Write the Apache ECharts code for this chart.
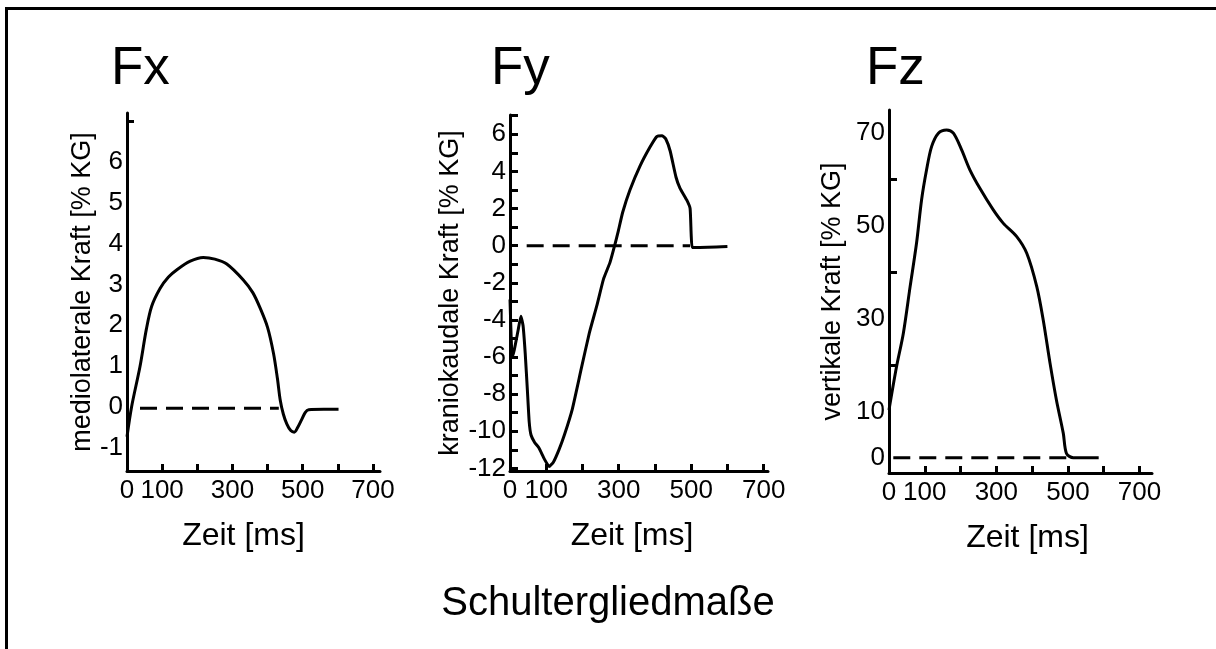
<!DOCTYPE html>
<html>
<head>
<meta charset="utf-8">
<script src="https://cdn.jsdelivr.net/npm/echarts@6/dist/echarts.min.js"></script>
<style>
  html, body { margin: 0; padding: 0; background: #fff; }
  #main { width: 1216px; height: 649px; }
</style>
</head>
<body>
<div id="main"></div>
<script>
// Werte: [Zeit ms, Kraft % KG]
const fxCurve = [[0, -0.73], [13, 0], [37, 0.99], [55, 1.9], [70, 2.46], [94, 2.9], [118, 3.18], [142, 3.36],
  [180, 3.57], [217, 3.66], [250, 3.62], [284, 3.5], [331, 3.11], [358, 2.8], [379, 2.42], [400, 1.95],
  [417, 1.31], [428, 0.7], [436, 0.17], [445, -0.18], [455, -0.42], [466, -0.58], [476, -0.62], [486, -0.5],
  [496, -0.33], [507, -0.14], [517, -0.07], [560, -0.06], [602, -0.06]];
const fxZero = [[37, -0.03], [432, -0.03]];

const fyCurve = [[0, -2.9], [6, -6.0], [12, -5.6], [22, -4.6], [30, -3.8], [36, -4.3], [42, -5.8], [48, -7.8],
  [53, -9.5], [58, -10.2], [68, -10.6], [80, -10.9], [95, -11.5], [108, -11.9], [120, -11.65], [135, -11.0],
  [150, -10.2], [172, -8.8], [197, -6.6], [219, -4.7], [240, -3.2], [258, -1.8], [276, -0.9], [290, 0.1],
  [299, 0.8], [311, 1.8], [331, 3.0], [359, 4.3], [386, 5.3], [405, 5.88], [420, 5.92], [430, 5.75],
  [442, 5.1], [458, 3.7], [469, 3.1], [488, 2.45], [497, 2.0], [500, 0.6], [503, -0.1], [520, -0.1], [600, -0.05]];
const fyZero = [[46, 0], [497, 0]];

const fzCurve = [[0, 10.3], [21, 19.6], [40, 26.8], [59, 36.9], [77, 46.3], [91, 55.6], [105, 62.1], [119, 67.1],
  [138, 70], [161, 70.7], [180, 70], [203, 66.4], [226, 62.1], [254, 58.1], [291, 53.5], [319, 50.6],
  [357, 47.7], [385, 44.1], [413, 36.9], [431, 29.7], [450, 20.4], [468, 12.4], [487, 5.3], [496, 0.9],
  [515, 0], [586, 0]];
const fzZero = [[12, 0], [497, 0]];

const panelTitles = ['Fx', 'Fy', 'Fz'];
const yNames = ['mediolaterale Kraft [% KG]', 'kraniokaudale Kraft [% KG]', 'vertikale Kraft [% KG]'];
const xName = 'Zeit [ms]';
const footer = 'Schultergliedmaße';

const xLabelVals = [0, 100, 300, 500, 700];
const xTickVals = [100, 200, 300, 400, 500, 600, 700];
const fxLabelVals = [-1, 0, 1, 2, 3, 4, 5, 6];
const fxTickVals = [7];
const fyLabelVals = [-12, -10, -8, -6, -4, -2, 0, 2, 4, 6];
const fyTickVals = [-12, -11, -10, -9, -8, -7, -6, -5, -4, -3, -2, -1, 0, 1, 2, 3, 4, 5, 6, 7];
const fzLabelVals = [0, 10, 30, 50, 70];
const fzTickVals = [20, 40, 60];

const FONT = 'Liberation Sans, Arial, Helvetica, sans-serif';
const INK = '#000';

const chart = echarts.init(document.getElementById('main'));

// Raster der drei Teilabbildungen (Pixel)
const grids = [
  { left: 127, top: 113, width: 253, height: 358 },
  { left: 510, top: 115, width: 258, height: 356 },
  { left: 889, top: 110, width: 263, height: 363 }
];
const xMax = [720, 712, 735];
const yRange = [[-1.57, 7.2], [-12.14, 7.04], [-3.3, 75]];
const yLabelVals = [fxLabelVals, fyLabelVals, fzLabelVals];
const yTickVals = [fxTickVals, fyTickVals, fzTickVals];
const yNameGap = [30, 43, 43];
const xNamePad = [[0, 20, 0, 0], [0, 14, 0, 0], [0, 0, 0, 14]];
const curves = [fxCurve, fyCurve, fzCurve];
const zeros = [fxZero, fyZero, fzZero];
const smoothness = [0.3, 0.15, 0.3];

const axisLine = { show: true, onZero: false, lineStyle: { color: INK, width: 3 } };

const xAxes = grids.map((g, i) => ({
  type: 'value', gridIndex: i, min: 0, max: xMax[i],
  name: xName, nameLocation: 'middle', nameGap: 49,
  nameTextStyle: { color: INK, fontSize: 32, fontFamily: FONT, padding: xNamePad[i] },
  axisLine: axisLine,
  axisTick: { show: true, inside: true, length: 7, customValues: xTickVals, lineStyle: { color: INK, width: 3 } },
  axisLabel: { color: INK, fontSize: 26, fontFamily: FONT, margin: 7, customValues: xLabelVals },
  splitLine: { show: false }
}));

const yAxes = grids.map((g, i) => ({
  type: 'value', gridIndex: i, min: yRange[i][0], max: yRange[i][1],
  name: yNames[i], nameLocation: 'middle', nameGap: yNameGap[i], nameRotate: 90,
  nameTextStyle: { color: INK, fontSize: 27, fontFamily: FONT },
  axisLine: axisLine,
  axisTick: { show: true, inside: true, length: i === 0 ? 7 : 8, customValues: yTickVals[i], lineStyle: { color: INK, width: 3 } },
  axisLabel: { color: INK, fontSize: 26, fontFamily: FONT, margin: 4, customValues: yLabelVals[i] },
  splitLine: { show: false }
}));

const series = [];
curves.forEach((c, i) => {
  series.push({
    type: 'line', xAxisIndex: i, yAxisIndex: i, data: c,
    showSymbol: false, smooth: smoothness[i],
    lineStyle: { color: INK, width: 3 }, z: 3
  });
  series.push({
    type: 'line', xAxisIndex: i, yAxisIndex: i, data: zeros[i],
    showSymbol: false, lineStyle: { color: INK, width: 3, type: [17, 9] }, z: 2
  });
});

chart.setOption({
  backgroundColor: '#fff',
  animation: false,
  title: [
    { text: panelTitles[0], left: 106, top: 38, textStyle: { color: INK, fontSize: 53, fontWeight: 'normal', fontFamily: FONT } },
    { text: panelTitles[1], left: 486, top: 38, textStyle: { color: INK, fontSize: 53, fontWeight: 'normal', fontFamily: FONT } },
    { text: panelTitles[2], left: 861, top: 38, textStyle: { color: INK, fontSize: 53, fontWeight: 'normal', fontFamily: FONT } },
    { text: footer, left: 'center', top: 579, textStyle: { color: INK, fontSize: 40, fontWeight: 'normal', fontFamily: FONT } }
  ],
  grid: grids,
  xAxis: xAxes,
  yAxis: yAxes,
  series: series,
  graphic: [
    // Rahmen oben und links
    { type: 'line', shape: { x1: 5, y1: 8.5, x2: 1216, y2: 8.5 }, style: { stroke: INK, lineWidth: 3 } },
    { type: 'line', shape: { x1: 6.5, y1: 7, x2: 6.5, y2: 649 }, style: { stroke: INK, lineWidth: 3 } }
  ]
});
</script>
</body>
</html>
